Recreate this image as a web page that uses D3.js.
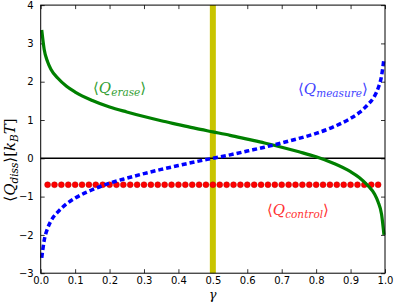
<!DOCTYPE html>
<html>
<head>
<meta charset="utf-8">
<script src="https://cdn.jsdelivr.net/npm/d3@7"></script>
<style>
  body { margin: 0; background: #fff; }
  text { font-family: "DejaVu Sans", sans-serif; }
  .math { font-family: "DejaVu Serif", serif; font-style: italic; }
</style>
</head>
<body>
<div id="chart"></div>
<script>
const width = 395;
const height = 302;

// data
const gamma = [0.003, 0.01, 0.02, 0.03, 0.05, 0.075, 0.1, 0.15, 0.2, 0.25, 0.3, 0.35, 0.4, 0.45, 0.5,
  0.55, 0.6, 0.65, 0.7, 0.75, 0.8, 0.85, 0.9, 0.925, 0.95, 0.97, 0.98, 0.99, 0.997];
const qErase = [3.35, 2.85, 2.52, 2.32, 2.09, 1.88, 1.73, 1.51, 1.34, 1.21, 1.09, 0.98, 0.88, 0.78, 0.69,
  0.60, 0.50, 0.40, 0.29, 0.17, 0.04, -0.13, -0.35, -0.50, -0.71, -0.94, -1.14, -1.46, -2.0];
const qMeasure = [-2.6, -2.15, -1.83, -1.63, -1.40, -1.19, -1.04, -0.82, -0.65, -0.52, -0.40, -0.29, -0.19, -0.09, 0,
  0.09, 0.19, 0.29, 0.40, 0.52, 0.65, 0.82, 1.04, 1.19, 1.40, 1.63, 1.83, 2.15, 2.6];
const controlGamma = [0.02, 0.04, 0.06, 0.08, 0.10, 0.12, 0.14, 0.16, 0.18, 0.20, 0.22, 0.24, 0.26, 0.28, 0.30,
  0.32, 0.34, 0.36, 0.38, 0.40, 0.42, 0.44, 0.46, 0.48, 0.50, 0.52, 0.54, 0.56, 0.58, 0.60, 0.62, 0.64,
  0.66, 0.68, 0.70, 0.72, 0.74, 0.76, 0.78, 0.80, 0.82, 0.84, 0.86, 0.88, 0.90, 0.92, 0.94, 0.96, 0.98];
const qControl = controlGamma.map(() => -0.69);
const xTicks = [0.0, 0.1, 0.2, 0.3, 0.4, 0.5, 0.6, 0.7, 0.8, 0.9, 1.0];
const yTicks = [-3, -2, -1, 0, 1, 2, 3, 4];
const markGamma = 0.5;

const margin = { left: 40.7, right: 10, top: 5.1, bottom: 28.8 };

const svg = d3.select("#chart").append("svg")
  .attr("width", width)
  .attr("height", height);

const x = d3.scaleLinear().domain([0, 1]).range([margin.left, width - margin.right]);
const y = d3.scaleLinear().domain([-3, 4]).range([height - margin.bottom, margin.top]);

// axes, ticks pointing inward on all four sides
const fmt = d => d3.format(".1f")(d);
const yfmt = d => d < 0 ? "\u2212" + Math.abs(d) : String(d);

svg.append("g")
  .attr("transform", `translate(0,${y(-3)})`)
  .call(d3.axisBottom(x).tickValues(xTicks).tickFormat(fmt).tickSizeInner(-4).tickSizeOuter(0).tickPadding(4));
svg.append("g")
  .attr("transform", `translate(0,${y(4)})`)
  .call(d3.axisTop(x).tickValues(xTicks).tickFormat("").tickSizeInner(-4).tickSizeOuter(0));
svg.append("g")
  .attr("transform", `translate(${x(0)},0)`)
  .call(d3.axisLeft(y).tickValues(yTicks).tickFormat(yfmt).tickSizeInner(-4).tickSizeOuter(0).tickPadding(7));
svg.append("g")
  .attr("transform", `translate(${x(1)},0)`)
  .call(d3.axisRight(y).tickValues(yTicks).tickFormat("").tickSizeInner(-4).tickSizeOuter(0));

svg.selectAll(".domain").remove();
svg.selectAll(".tick line").attr("stroke", "#000").attr("stroke-width", 0.8);
svg.selectAll(".tick text").attr("font-size", 10).attr("fill", "#000");

// yellow band at gamma = 0.5
svg.append("line")
  .attr("x1", x(markGamma)).attr("x2", x(markGamma))
  .attr("y1", y(4)).attr("y2", y(-3))
  .attr("stroke", "#c8c400")
  .attr("stroke-width", 6);

// zero line
svg.append("line")
  .attr("x1", x(0)).attr("x2", x(1))
  .attr("y1", y(0)).attr("y2", y(0))
  .attr("stroke", "#000")
  .attr("stroke-width", 1.5);

const line = d3.line()
  .x(d => x(d[0]))
  .y(d => y(d[1]))
  .curve(d3.curveMonotoneX);

// control (red dots)
svg.append("g")
  .selectAll("circle")
  .data(controlGamma.map((g, i) => [g, qControl[i]]))
  .enter().append("circle")
  .attr("cx", d => x(d[0]))
  .attr("cy", d => y(d[1]))
  .attr("r", 3)
  .attr("fill", "#ff0000")
  .attr("stroke", "#aa0000")
  .attr("stroke-width", 0.4);

// erase (green)
svg.append("path")
  .datum(gamma.map((g, i) => [g, qErase[i]]))
  .attr("d", line)
  .attr("fill", "none")
  .attr("stroke", "#008000")
  .attr("stroke-width", 3.2);

// measure (blue dotted)
svg.append("path")
  .datum(gamma.map((g, i) => [g, qMeasure[i]]))
  .attr("d", line)
  .attr("fill", "none")
  .attr("stroke", "#0000ff")
  .attr("stroke-width", 3.5)
  .attr("stroke-dasharray", "5,3");

// frame
svg.append("rect")
  .attr("x", x(0)).attr("y", y(4))
  .attr("width", x(1) - x(0)).attr("height", y(-3) - y(4))
  .attr("fill", "none")
  .attr("stroke", "#000")
  .attr("stroke-width", 1);

// curve labels
function mathLabel(g, px, py, sub, color, size) {
  const t = g.append("text")
    .attr("class", "math")
    .attr("x", px).attr("y", py)
    .attr("fill", color)
    .attr("font-size", size);
  t.append("tspan").attr("font-style", "normal").text("\u27e8");
  t.append("tspan").text("Q");
  t.append("tspan").attr("font-size", size * 0.7).attr("dy", 3).text(sub);
  t.append("tspan").attr("font-style", "normal").attr("dy", -3).text("\u27e9");
  return t;
}

mathLabel(svg, 93, 93, "erase", "#33a033", 15);
mathLabel(svg, 298, 94, "measure", "#4444ff", 15);
mathLabel(svg, 267, 215, "control", "#ff3333", 15);

// axis titles
svg.append("text")
  .attr("class", "math")
  .attr("x", x(0.5)).attr("y", 298.5)
  .attr("text-anchor", "middle")
  .attr("font-size", 12.5)
  .text("\u03b3");

const yl = svg.append("text")
  .attr("class", "math")
  .attr("transform", `translate(15,160) rotate(-90)`)
  .attr("text-anchor", "middle")
  .attr("font-size", 15);
yl.append("tspan").attr("font-style", "normal").text("\u27e8");
yl.append("tspan").text("Q");
yl.append("tspan").attr("font-size", 10.5).attr("dy", 3).text("diss");
yl.append("tspan").attr("font-style", "normal").attr("dy", -3).text("\u27e9[");
yl.append("tspan").text("k");
yl.append("tspan").attr("font-size", 10.5).attr("dy", 3).text("B");
yl.append("tspan").attr("dy", -3).text("T");
yl.append("tspan").attr("font-style", "normal").text("]");
</script>
</body>
</html>
